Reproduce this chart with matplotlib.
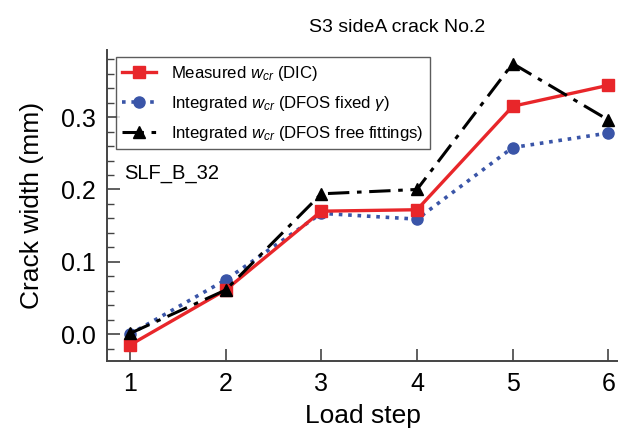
import numpy as np
import matplotlib
matplotlib.use("Agg")
import matplotlib.pyplot as plt
from matplotlib.ticker import MultipleLocator, FormatStrFormatter

plt.rcParams['font.family'] = ['Liberation Sans', 'DejaVu Sans']
plt.rcParams['mathtext.fontset'] = 'custom'
plt.rcParams['mathtext.rm'] = 'Liberation Sans'
plt.rcParams['mathtext.it'] = 'Liberation Sans:italic'

# data
load_step = [1, 2, 3, 4, 5, 6]
measured_dic = [-0.015, 0.061, 0.170, 0.172, 0.315, 0.344]
dfos_fixed = [0.000, 0.075, 0.167, 0.159, 0.258, 0.278]
dfos_free = [0.001, 0.061, 0.194, 0.200, 0.374, 0.296]

fig = plt.figure(figsize=(6.18, 4.37), dpi=100)
ax = fig.add_axes([0.173, 0.174, 0.827, 0.712])

ax.plot(load_step, measured_dic, color='#e8262a', lw=2.4, marker='s', ms=8,
        label=r'Measured $w_{cr}$ (DIC)', zorder=3)
ax.plot(load_step, dfos_fixed, color='#3a55a8', lw=2.6, ls=(0, (1, 1.6)), marker='o', ms=8,
        label=r'Integrated $w_{cr}$ (DFOS fixed $\gamma$)', zorder=2)
ax.plot(load_step, dfos_free, color='black', lw=2.2, ls=(0, (7, 2.5, 1.5, 2.5)), marker='^', ms=8,
        label=r'Integrated $w_{cr}$ (DFOS free fittings)', zorder=4)

ax.set_xlim(0.76, 6.1)
ax.set_ylim(-0.037, 0.393)
ax.set_xticks(load_step)
ax.yaxis.set_major_locator(MultipleLocator(0.1))
ax.yaxis.set_minor_locator(MultipleLocator(0.02))
ax.yaxis.set_major_formatter(FormatStrFormatter('%.1f'))

for side in ['top', 'right']:
    ax.spines[side].set_visible(False)
for side in ['left', 'bottom']:
    ax.spines[side].set_linewidth(1.4)
    ax.spines[side].set_color('#444444')

ax.tick_params(which='major', direction='in', length=9, width=1.2, labelsize=18, color='#444444', pad=8)
ax.tick_params(which='minor', direction='in', length=5, width=1.0, color='#444444')
ax.tick_params(axis='x', which='minor', length=0)

ax.set_xlabel('Load step', fontsize=19, labelpad=6)
ax.set_ylabel('Crack width (mm)', fontsize=19, labelpad=12)
ax.set_title('S3 sideA crack No.2', fontsize=14, x=0.568, pad=13)

leg = ax.legend(loc='upper left', bbox_to_anchor=(0.017, 0.977), fontsize=12.1, frameon=True,
                fancybox=False, edgecolor='#333333', handlelength=2.0, handletextpad=0.9,
                borderpad=0.4, borderaxespad=0.0, labelspacing=0.65)
leg.get_frame().set_linewidth(1.0)

ax.text(0.034, 0.603, 'SLF_B_32', transform=ax.transAxes, fontsize=14.5, va='center')

fig.savefig('out.png', dpi=100)
